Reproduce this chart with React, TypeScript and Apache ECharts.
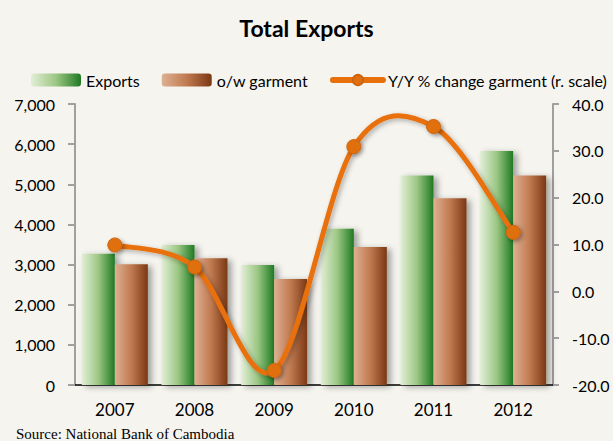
import React, { useEffect, useRef } from "react";
import * as echarts from "echarts";

const categories = ["2007", "2008", "2009", "2010", "2011", "2012"];
const exportsValues = [3270, 3490, 2990, 3890, 5220, 5830];
const garmentValues = [3010, 3160, 2640, 3440, 4650, 5220];
const yoyGarment = [9.9, 5.2, -16.9, 30.9, 35.2, 12.6];

const LINE_COLOR = "#e8700c";

export default function App() {
  const ref = useRef<HTMLDivElement>(null);
  useEffect(() => {
    document.body.style.margin = "0";
    document.body.style.background = "#f5f4ef";
    const chart = echarts.init(ref.current!, null, { renderer: "svg" });
    const font = "Lato, 'Open Sans', sans-serif";
    const greenGrad = new echarts.graphic.LinearGradient(0, 0, 1, 0, [
      { offset: 0, color: "#e2eed6" },
      { offset: 0.5, color: "#9cc784" },
      { offset: 1, color: "#1f7a22" },
    ]);
    const brownGrad = new echarts.graphic.LinearGradient(0, 0, 1, 0, [
      { offset: 0, color: "#deb092" },
      { offset: 0.5, color: "#c07a50" },
      { offset: 1, color: "#7a3814" },
    ]);

    // Catmull-Rom style smoothing (like spreadsheet smoothed lines), through the axis scales
    const renderCurve = (params: any, api: any) => {
      const i = params.dataIndex;
      const n = yoyGarment.length;
      if (i >= n - 1) return null;
      const pt = (k: number) => {
        const kk = Math.max(0, Math.min(n - 1, k));
        return api.coord([kk, yoyGarment[kk]]);
      };
      const p0 = pt(i - 1);
      const p1 = pt(i);
      const p2 = pt(i + 1);
      const p3 = pt(i + 2);
      const t = 1 / 6;
      return {
        type: "bezierCurve",
        shape: {
          x1: p1[0],
          y1: p1[1],
          x2: p2[0],
          y2: p2[1],
          cpx1: p1[0] + (p2[0] - p0[0]) * t,
          cpy1: p1[1] + (p2[1] - p0[1]) * t,
          cpx2: p2[0] - (p3[0] - p1[0]) * t,
          cpy2: p2[1] - (p3[1] - p1[1]) * t,
        },
        style: {
          stroke: LINE_COLOR,
          fill: "none",
          lineWidth: 5,
          lineCap: "round",
          shadowColor: "rgba(0,0,0,0.3)",
          shadowBlur: 5,
          shadowOffsetX: 2,
          shadowOffsetY: 2,
        },
      };
    };

    chart.setOption({
      animation: false,
      backgroundColor: "#f5f4ef",
      textStyle: { fontFamily: font },
      title: {
        text: "Total Exports",
        left: "center",
        top: 11,
        textStyle: { fontFamily: font, fontSize: 23, fontWeight: "bold", color: "#000" },
      },
      legend: {
        top: 72,
        left: 31,
        width: 600,
        padding: 0,
        itemWidth: 50,
        itemHeight: 13,
        itemGap: 22,
        lineStyle: { width: 6, cap: "round", opacity: 1, color: LINE_COLOR },
        textStyle: { fontFamily: font, fontSize: 16, color: "#000" },
        data: [
          { name: "Exports" },
          { name: "o/w garment" },
          { name: "Y/Y % change garment (r. scale)" },
        ],
      },
      grid: { left: 75, right: 60, top: 104, bottom: 56, containLabel: false },
      xAxis: {
        type: "category",
        data: categories,
        axisLine: { lineStyle: { color: "#000", width: 1.5 } },
        axisTick: { show: false },
        axisLabel: { fontSize: 17, color: "#000", margin: 16, fontFamily: font },
      },
      yAxis: [
        {
          type: "value",
          min: 0,
          max: 7000,
          interval: 1000,
          splitLine: { show: false },
          axisLine: { show: true, lineStyle: { color: "#a0a0a0", width: 2 } },
          axisTick: { show: true, inside: false, length: 7, lineStyle: { color: "#a0a0a0", width: 2 } },
          axisLabel: {
            fontSize: 16,
            color: "#000",
            margin: 20,
            fontFamily: font,
            formatter: (v: number) => v.toLocaleString("en-US"),
          },
        },
        {
          type: "value",
          min: -20,
          max: 40,
          interval: 10,
          position: "right",
          splitLine: { show: false },
          axisLine: { show: true, lineStyle: { color: "#a0a0a0", width: 2 } },
          axisTick: { show: true, inside: false, length: 6, lineStyle: { color: "#a0a0a0", width: 2 } },
          axisLabel: {
            fontSize: 16,
            color: "#000",
            margin: 19,
            fontFamily: font,
            formatter: (v: number) => v.toFixed(1),
          },
        },
      ],
      series: [
        {
          name: "Exports",
          type: "bar",
          data: exportsValues,
          barWidth: 33,
          barGap: "0%",
          itemStyle: {
            color: greenGrad,
            shadowColor: "rgba(0,0,0,0.35)",
            shadowBlur: 6,
            shadowOffsetX: 4,
            shadowOffsetY: 2,
          },
        },
        {
          name: "o/w garment",
          type: "bar",
          data: garmentValues,
          barWidth: 33,
          barGap: "0%",
          itemStyle: {
            color: brownGrad,
            shadowColor: "rgba(0,0,0,0.35)",
            shadowBlur: 6,
            shadowOffsetX: 4,
            shadowOffsetY: 2,
          },
        },
        {
          name: "curve",
          type: "custom",
          yAxisIndex: 1,
          coordinateSystem: "cartesian2d",
          renderItem: renderCurve,
          data: yoyGarment.map((v, i) => [i, v]),
          z: 3,
          silent: true,
        },
        {
          name: "Y/Y % change garment (r. scale)",
          type: "line",
          yAxisIndex: 1,
          data: yoyGarment,
          symbol: "circle",
          symbolSize: 14,
          z: 4,
          color: LINE_COLOR,
          lineStyle: { color: LINE_COLOR, width: 5, opacity: 0 },
          itemStyle: {
            color: "#e0700f",
            borderColor: "#d0640a",
            borderWidth: 1,
            shadowColor: "rgba(0,0,0,0.35)",
            shadowBlur: 4,
            shadowOffsetX: 2,
            shadowOffsetY: 2,
          },
        },
      ],
      graphic: [
        {
          type: "text",
          left: 16,
          top: 426,
          style: {
            text: "Source: National Bank of Cambodia",
            fontFamily: "'Liberation Serif', 'Times New Roman', serif",
            fontSize: 15,
            fill: "#000",
          },
        },
      ],
    });
    return () => chart.dispose();
  }, []);
  return <div ref={ref} style={{ width: 613, height: 441 }} />;
}
